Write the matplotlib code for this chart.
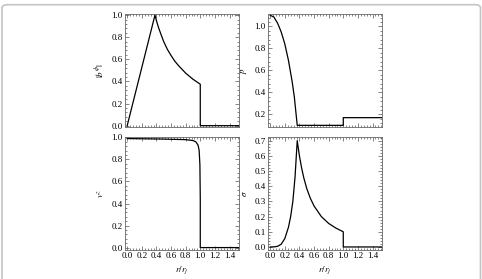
import numpy as np
import matplotlib
matplotlib.use("Agg")
import matplotlib.pyplot as plt
from matplotlib.patches import FancyBboxPatch
from matplotlib.ticker import MultipleLocator, FormatStrFormatter

plt.rcParams['font.family'] = ['Liberation Serif', 'DejaVu Serif']
plt.rcParams['mathtext.fontset'] = 'stix'

# |b^phi|
b_x = [0.0, 0.38, 0.40, 0.43, 0.46, 0.50, 0.55, 0.60, 0.65, 0.70, 0.80, 0.90, 1.0, 1.0, 1.53]
b_y = [0.0, 1.0, 0.95, 0.885, 0.83, 0.76, 0.69, 0.635, 0.585, 0.545, 0.475, 0.42, 0.375, 0.0, 0.0]

# p
p_x = [0.0, 0.05, 0.10, 0.15, 0.20, 0.25, 0.30, 0.33, 0.37, 1.0, 1.0, 1.53]
p_y = [1.1, 1.085, 1.03, 0.95, 0.84, 0.69, 0.50, 0.36, 0.10, 0.10, 0.17, 0.17]

# v^z
v_x = [0.0, 0.50, 0.80, 0.90, 0.94, 0.97, 0.985, 0.995, 1.0, 1.0, 1.53]
v_y = [0.99, 0.985, 0.98, 0.972, 0.96, 0.93, 0.88, 0.75, 0.45, 0.0, 0.0]

# sigma
s_x = [0.0, 0.05, 0.10, 0.15, 0.20, 0.25, 0.28, 0.31, 0.34, 0.37,
       0.40, 0.43, 0.46, 0.50, 0.55, 0.60, 0.70, 0.80, 0.90, 1.0, 1.0, 1.53]
s_y = [0.0, 0.0005, 0.004, 0.018, 0.055, 0.13, 0.2, 0.3, 0.46, 0.70,
       0.60, 0.52, 0.455, 0.385, 0.32, 0.27, 0.2, 0.155, 0.124, 0.1, 0.0, 0.0]

x_ticks = [0.0, 0.2, 0.4, 0.6, 0.8, 1.0, 1.2, 1.4]

fig = plt.figure(figsize=(4.82, 2.79), dpi=100)

# rounded grey frame around the figure
frame = FancyBboxPatch((2 / 482, -0.2), 478.5 / 482, 1 - 4.7 / 279 + 0.2,
                       boxstyle="round,pad=0,rounding_size=0.012",
                       transform=fig.transFigure, fill=False,
                       edgecolor='#c4c4c4', linewidth=1.2)
fig.patches.append(frame)

w = 114 / 482
h = 113 / 279
ax_b = fig.add_axes([125 / 482, 1 - 127 / 279, w, h])
ax_p = fig.add_axes([268 / 482, 1 - 127 / 279, w, h])
ax_v = fig.add_axes([125 / 482, 1 - 250 / 279, w, h])
ax_s = fig.add_axes([268 / 482, 1 - 250 / 279, w, h])

ax_b.plot(b_x, b_y, color='black', lw=0.9)
ax_p.plot(p_x, p_y, color='black', lw=0.9)
ax_v.plot(v_x, v_y, color='black', lw=0.9)
ax_s.plot(s_x, s_y, color='black', lw=0.9)

ax_b.set_ylim(-0.012, 1.01)
ax_p.set_ylim(0.085, 1.112)
ax_v.set_ylim(-0.022, 1.004)
ax_s.set_ylim(-0.02, 0.724)

ax_b.yaxis.set_major_locator(MultipleLocator(0.2))
ax_p.set_yticks([0.2, 0.4, 0.6, 0.8, 1.0])
ax_v.yaxis.set_major_locator(MultipleLocator(0.2))
ax_s.yaxis.set_major_locator(MultipleLocator(0.1))
ax_b.yaxis.set_minor_locator(MultipleLocator(0.04))
ax_p.yaxis.set_minor_locator(MultipleLocator(0.04))
ax_v.yaxis.set_minor_locator(MultipleLocator(0.04))
ax_s.yaxis.set_minor_locator(MultipleLocator(0.02))

for ax in [ax_b, ax_p, ax_v, ax_s]:
    ax.set_xlim(-0.03, 1.53)
    ax.set_xticks(x_ticks)
    ax.xaxis.set_minor_locator(MultipleLocator(0.04))
    ax.xaxis.set_major_formatter(FormatStrFormatter('%.1f'))
    ax.yaxis.set_major_formatter(FormatStrFormatter('%.1f'))
    ax.tick_params(which='both', direction='in', top=True, right=True,
                   color='#555555', labelsize=6.5, pad=1.5, width=0.5)
    ax.tick_params(which='major', length=3)
    ax.tick_params(which='minor', length=1.5)
    for sp in ax.spines.values():
        sp.set_color('#666666')
        sp.set_linewidth(0.6)

for ax in [ax_b, ax_p]:
    ax.tick_params(labelbottom=False)

ax_b.set_ylabel(r'$|b^{\phi}|$', fontsize=6.5, labelpad=4)
ax_p.set_ylabel(r'$p$', fontsize=6.5, labelpad=4)
ax_v.set_ylabel(r'$v^z$', fontsize=6.5, labelpad=4)
ax_s.set_ylabel(r'$\sigma$', fontsize=6.5, labelpad=4)
ax_v.set_xlabel(r'$r/r_j$', fontsize=6.5, labelpad=3)
ax_s.set_xlabel(r'$r/r_j$', fontsize=6.5, labelpad=3)

fig.savefig("out.png", dpi=100)
